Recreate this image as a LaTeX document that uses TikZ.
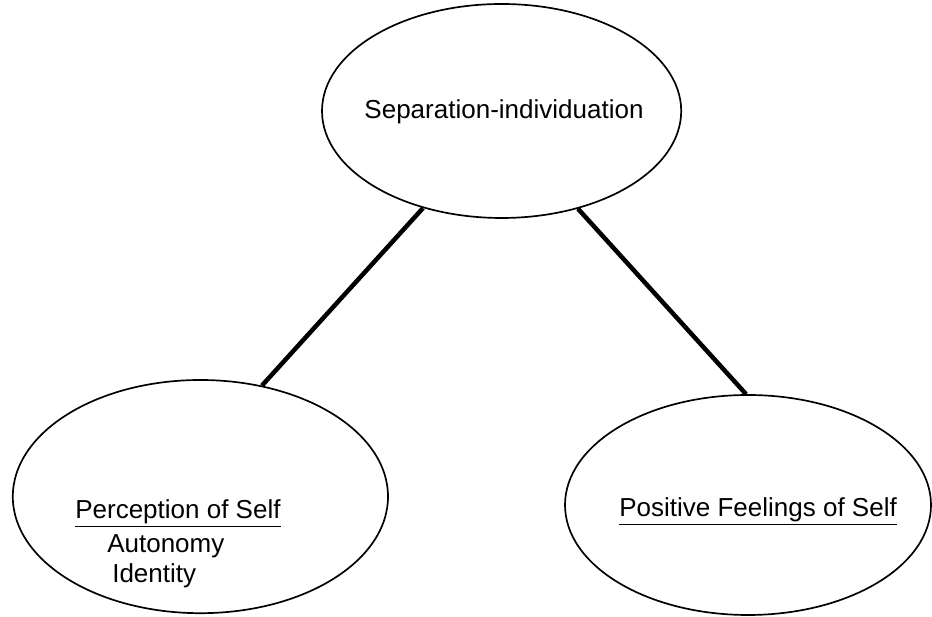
\documentclass[tikz,border=0pt]{standalone}
\usepackage{fontspec}
\setmainfont{Liberation Sans}
\usepackage{tikz}
\usetikzlibrary{shapes.geometric}

\begin{document}
\begin{tikzpicture}[
  blob/.style={draw, ellipse, line width=1.2pt, inner sep=0pt},
  word/.style={font=\fontsize{18.5}{22}\selectfont, inner sep=0pt},
  link/.style={line width=3.2pt}]
  \useasboundingbox (0,0) rectangle (23.3,15.425);
  \node [blob, minimum width=8.98cm, minimum height=5.35cm] (sep) at (12.54,12.65) {};
  \node [blob, minimum width=9.38cm, minimum height=5.83cm] (perc) at (5.01,3.01) {};
  \node [blob, minimum width=9.15cm, minimum height=5.5cm] (feel) at (18.7,2.8) {};
  \node [word] (sep_t) at (12.6,12.625) {Separation-individuation};
  \node [word, anchor=base west] (perc_t) at (1.875,2.45) {\underline{Perception of Self}};
  \node [word, anchor=base west] (auto_t) at (2.675,1.6) {Autonomy};
  \node [word, anchor=base west] (ident_t) at (2.8,0.85) {Identity};
  \node [word, anchor=base west] (feel_t) at (15.475,2.5) {\underline{Positive Feelings of Self}};
  \draw [link] (sep.231) -- (perc.61);
  \draw [link] (sep.308) -- (feel.91.5);
\end{tikzpicture}
\end{document}
